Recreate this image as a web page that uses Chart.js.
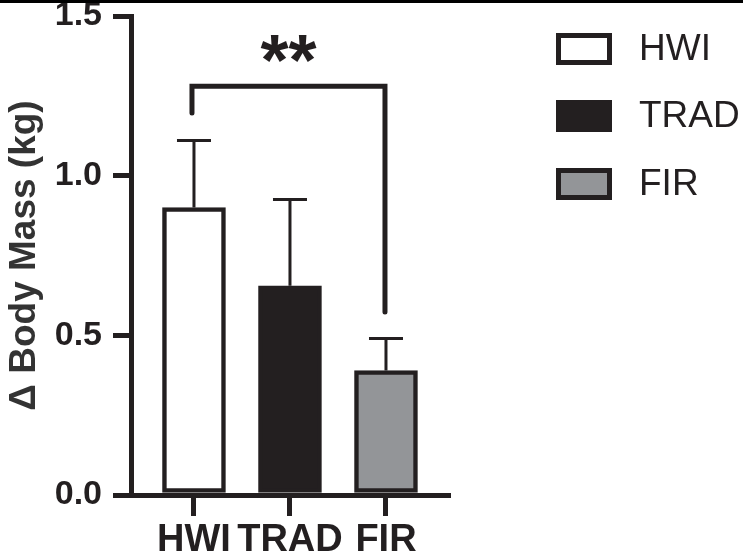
<!DOCTYPE html>
<html>
<head>
<meta charset="utf-8">
<script src="https://cdn.jsdelivr.net/npm/chart.js@4/dist/chart.umd.min.js"></script>
<style>
  html, body { margin: 0; padding: 0; background: #fff; }
  #wrap { width: 743px; height: 556px; position: relative; }
</style>
</head>
<body>
<div id="wrap"><canvas id="chart"></canvas></div>
<script>
const groups = ["HWI", "TRAD", "FIR"];
const means = [0.90, 0.655, 0.39];
const errUpper = [1.11, 0.925, 0.49];
const yTicks = [0, 0.5, 1.0, 1.5];
const fills = ["#ffffff", "#231f20", "#939598"];

// significance bracket between HWI and FIR (in data units)
const bracket = { from: 0, to: 2, top: 1.28, leftEnd: 1.196, rightEnd: 0.573, label: "**" };

const ink = "#231f20";
const font = "'Liberation Sans', Arial, sans-serif";

const extras = {
  id: "extras",
  afterDatasetsDraw(chart) {
    const ctx = chart.ctx;
    const xs = chart.scales.x;
    const ys = chart.scales.y;
    ctx.save();
    // error bars (upper only)
    ctx.strokeStyle = ink;
    ctx.lineWidth = 3;
    for (let i = 0; i < means.length; i++) {
      const px = xs.getPixelForValue(i);
      const y0 = ys.getPixelForValue(means[i]);
      const y1 = ys.getPixelForValue(errUpper[i]);
      ctx.beginPath();
      ctx.moveTo(px, y0);
      ctx.lineTo(px, y1);
      ctx.moveTo(px - 17, y1);
      ctx.lineTo(px + 17, y1);
      ctx.stroke();
    }
    // bracket
    const bx1 = xs.getPixelForValue(bracket.from) - 2;
    const bx2 = xs.getPixelForValue(bracket.to) - 1;
    const by = ys.getPixelForValue(bracket.top);
    ctx.lineWidth = 5;
    ctx.lineCap = "round";
    ctx.lineJoin = "miter";
    ctx.beginPath();
    ctx.moveTo(bx1, ys.getPixelForValue(bracket.leftEnd));
    ctx.lineTo(bx1, by);
    ctx.lineTo(bx2, by);
    ctx.lineTo(bx2, ys.getPixelForValue(bracket.rightEnd));
    ctx.stroke();
    ctx.fillStyle = ink;
    ctx.font = "bold 72px " + font;
    ctx.textAlign = "center";
    ctx.textBaseline = "alphabetic";
    ctx.fillText(bracket.label, (bx1 + bx2) / 2, 85);
    ctx.restore();
  },
  afterDraw(chart) {
    const ctx = chart.ctx;
    ctx.save();
    // top edge line
    ctx.fillStyle = "#000";
    ctx.fillRect(0, 0, chart.width, 3);
    // legend
    const boxTops = [33, 100, 168];
    ctx.font = "37px " + font;
    ctx.textBaseline = "middle";
    ctx.textAlign = "left";
    for (let i = 0; i < groups.length; i++) {
      const t = boxTops[i];
      ctx.fillStyle = ink;
      ctx.fillRect(556, t, 56, 32);
      ctx.fillStyle = fills[i];
      ctx.fillRect(561, t + 5, 46, 22);
      ctx.fillStyle = ink;
      ctx.fillText(groups[i], 639, t + 17);
    }
    ctx.restore();
  }
};

new Chart(document.getElementById("chart"), {
  type: "bar",
  data: {
    datasets: [{
      data: means.map((v, i) => ({ x: i, y: v })),
      backgroundColor: fills,
      borderColor: ink,
      borderWidth: 4.5,
      borderSkipped: false,
      barThickness: 63
    }]
  },
  options: {
    responsive: true,
    maintainAspectRatio: false,
    animation: false,
    layout: { padding: { left: 0, right: 295, top: 16, bottom: 0 } },
    plugins: { legend: { display: false }, tooltip: { enabled: false } },
    scales: {
      x: {
        type: "linear",
        min: -0.656,
        max: 2.646,
        offset: false,
        afterBuildTicks(scale) {
          scale.ticks = groups.map((g, i) => ({ value: i }));
        },
        afterFit(scale) {
          scale.height = 61;
          scale.paddingLeft = 0;
          scale.paddingRight = 0;
        },
        grid: { offset: false, drawOnChartArea: false, drawTicks: true, tickLength: 21, lineWidth: 5, color: ink, z: 1 },
        border: { display: true, width: 5, color: ink, z: 1 },
        ticks: {
          autoSkip: false,
          maxRotation: 0,
          padding: 2,
          color: ink,
          font: { family: font, size: 38, weight: "bold" },
          callback: (v) => groups[v]
        }
      },
      y: {
        min: 0,
        max: 1.5,
        afterBuildTicks(scale) {
          scale.ticks = yTicks.map((v) => ({ value: v }));
        },
        afterFit(scale) {
          scale.width = 131;
          scale.paddingTop = 0;
          scale.paddingBottom = 0;
        },
        grid: { drawOnChartArea: false, drawTicks: true, tickLength: 18, lineWidth: 5, color: ink },
        border: { display: true, width: 5, color: ink },
        ticks: {
          padding: 11,
          color: ink,
          font: { family: font, size: 34, weight: "bold" },
          callback: (v) => v.toFixed(1)
        },
        title: {
          display: true,
          text: "Δ Body Mass (kg)",
          color: "#333333",
          padding: { top: 3, bottom: 0 },
          font: { family: font, size: 37, weight: "bold" }
        }
      }
    }
  },
  plugins: [extras]
});
</script>
</body>
</html>
